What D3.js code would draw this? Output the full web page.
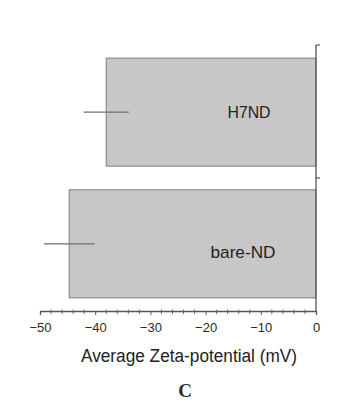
<!DOCTYPE html>
<html><head><meta charset="utf-8">
<script src="https://cdn.jsdelivr.net/npm/d3@7"></script>
<style>body{margin:0;background:#fff}svg{display:block}</style>
</head><body>
<svg id="c" width="347" height="405"></svg>
<script>
const categories = ["H7ND", "bare-ND"];
const values = [-38, -44.7];
const errors = [4.1, 4.6];
const xTicks = [-50, -40, -30, -20, -10, 0];
const axisTitle = "Average Zeta-potential (mV)";
const panelLabel = "C";

const FONT = "'Liberation Sans Narrow', 'Arial Narrow', 'Liberation Sans', Arial, sans-serif";
const svg = d3.select("#c");
const x = d3.scaleLinear().domain([-50, 0]).range([40, 316]);
const y = d3.scaleBand().domain(categories).range([45, 311]).paddingInner(0.18).paddingOuter(0.1);

// bars
svg.selectAll("rect.bar").data(categories).enter().append("rect")
  .attr("x", (d,i) => x(values[i]))
  .attr("y", d => y(d))
  .attr("width", (d,i) => x(0) - x(values[i]))
  .attr("height", y.bandwidth())
  .attr("fill", "#c7c7c7")
  .attr("stroke", "#8c8c8c")
  .attr("stroke-width", 1.2);

// error bars
svg.selectAll("line.err").data(categories).enter().append("line")
  .attr("x1", (d,i) => x(values[i] - errors[i]))
  .attr("x2", (d,i) => x(values[i] + errors[i]))
  .attr("y1", d => y(d) + y.bandwidth()/2)
  .attr("y2", d => y(d) + y.bandwidth()/2)
  .attr("stroke", "#6e6e6e").attr("stroke-width", 1.3);

// bar labels
const labelW = {"H7ND": 43, "bare-ND": 65};
svg.selectAll("text.lab").data(categories).enter().append("text")
  .attr("x", d => d === "H7ND" ? 249 : 243)
  .attr("y", (d,i) => y(d) + y.bandwidth()/2 + (i === 0 ? 6 : 14.5))
  .attr("text-anchor", "middle")
  .attr("font-family", FONT)
  .attr("font-size", 17)
  .attr("textLength", d => labelW[d])
  .attr("lengthAdjust", "spacingAndGlyphs")
  .attr("fill", "#222")
  .text(d => d);

// x axis
const xAxis = d3.axisBottom(x).tickValues(xTicks).tickSize(4).tickFormat(d3.format("d"));
const gx = svg.append("g").attr("transform", "translate(0,311)").call(xAxis);
gx.select(".domain").attr("stroke", "#555").attr("stroke-width", 1.3);
gx.selectAll(".tick line").attr("stroke", "#555");
gx.selectAll(".tick text").attr("font-family", FONT)
  .attr("font-size", 13).attr("fill", "#2a2a2a").attr("y", 20.5).attr("dy", 0);
// minor ticks
const minor = d3.range(-50, 0.1, 2).filter(v => xTicks.indexOf(v) < 0);
svg.append("g").selectAll("line").data(minor).enter().append("line")
  .attr("x1", d => x(d)).attr("x2", d => x(d))
  .attr("y1", 309.5).attr("y2", 314)
  .attr("stroke", "#666").attr("stroke-width", 1);

// y axis at x=0 (right side)
const yEdges = [y.range()[0], (y("H7ND") + y.bandwidth() + y("bare-ND"))/2];
svg.append("line").attr("x1", x(0)).attr("x2", x(0)).attr("y1", 45).attr("y2", 311)
  .attr("stroke", "#555").attr("stroke-width", 1.3);
svg.append("g").selectAll("line").data(yEdges).enter().append("line")
  .attr("x1", x(0)).attr("x2", x(0) + 4)
  .attr("y1", d => d).attr("y2", d => d)
  .attr("stroke", "#555").attr("stroke-width", 1.2);

// axis title
svg.append("text").attr("x", 189).attr("y", 361.5).attr("text-anchor", "middle")
  .attr("font-family", FONT).attr("font-size", 18)
  .attr("textLength", 216).attr("lengthAdjust", "spacingAndGlyphs")
  .attr("fill", "#222").text(axisTitle);

svg.append("text").attr("x", 185).attr("y", 397).attr("text-anchor", "middle")
  .attr("font-family", "Liberation Serif, Times New Roman, serif").attr("font-size", 19)
  .attr("font-weight", "bold").attr("fill", "#2a2a2a").text(panelLabel);
</script>
</body></html>
